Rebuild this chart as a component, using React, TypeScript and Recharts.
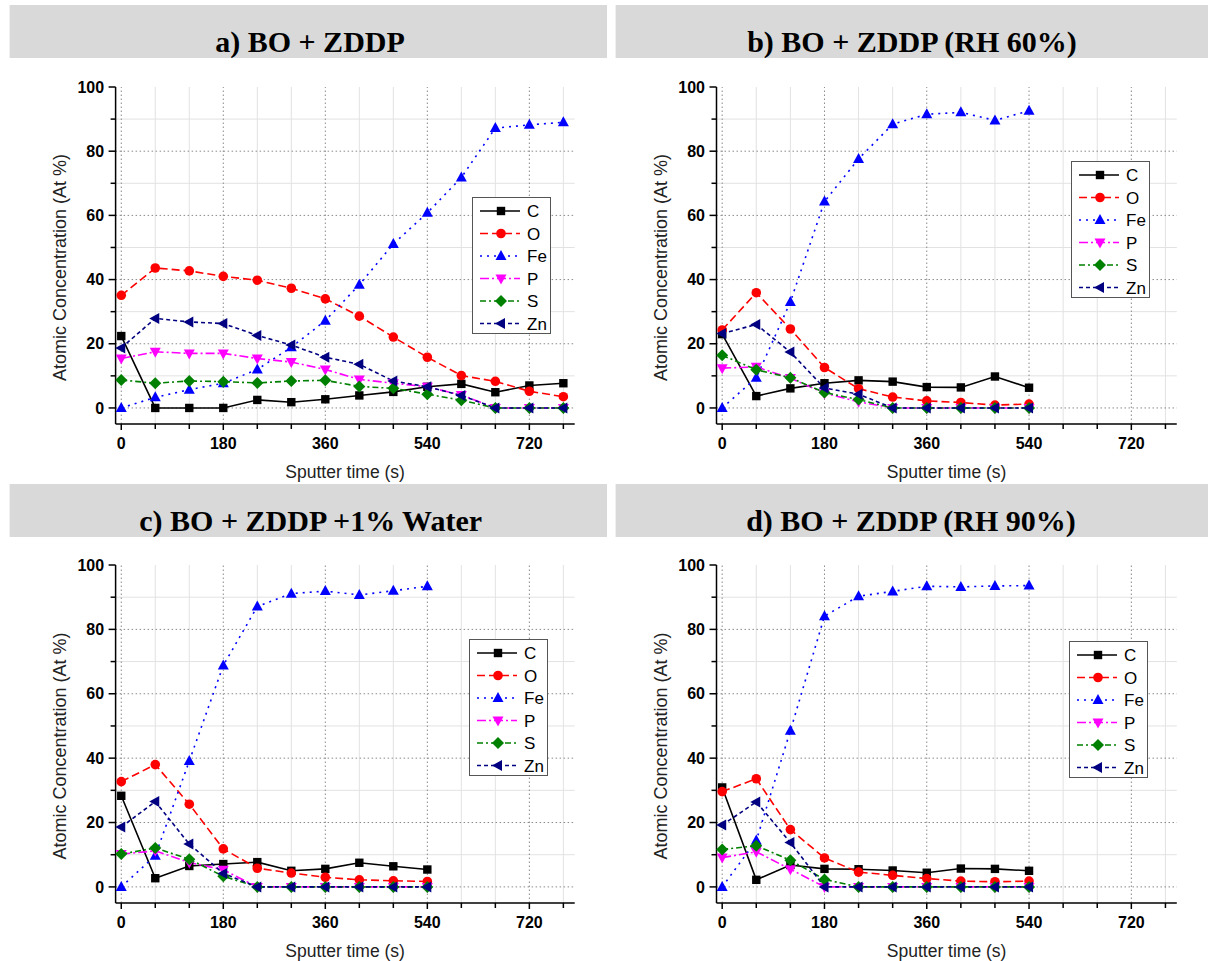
import React from "react"
import { LineChart, Line, XAxis, YAxis, ReferenceLine } from "recharts"

const timeLong = [0, 60, 120, 180, 240, 300, 360, 420, 480, 540, 600, 660, 720, 780]
const timeShort = [0, 60, 120, 180, 240, 300, 360, 420, 480, 540]

const elements = ["C", "O", "Fe", "P", "S", "Zn"]

// a) BO + ZDDP
const aC = [22.4, 0, 0, 0, 2.5, 1.8, 2.7, 3.9, 5.0, 6.6, 7.5, 4.9, 7.0, 7.7]
const aO = [35.1, 43.6, 42.7, 41.0, 39.8, 37.3, 34.0, 28.6, 22.1, 15.8, 10.1, 8.3, 5.2, 3.5]
const aFe = [0, 3.3, 5.7, 7.7, 12.0, 18.9, 27.2, 38.4, 51.1, 60.8, 71.8, 87.2, 88.2, 89.0]
const aP = [15.4, 17.5, 17.0, 17.0, 15.4, 14.3, 12.0, 8.9, 7.7, 6.6, 4.0, 0, 0, 0]
const aS = [8.7, 7.7, 8.4, 8.2, 7.8, 8.4, 8.6, 6.7, 6.1, 4.3, 2.4, 0, 0, 0]
const aZn = [18.7, 27.9, 26.8, 26.3, 22.6, 19.6, 15.8, 13.6, 8.4, 6.6, 3.9, 0, 0, 0]

// b) BO + ZDDP (RH 60%)
const bC = [23.0, 3.7, 6.1, 7.7, 8.6, 8.2, 6.5, 6.4, 9.8, 6.3]
const bO = [24.3, 35.9, 24.6, 12.6, 6.0, 3.4, 2.2, 1.7, 0.9, 1.2]
const bFe = [0, 9.4, 33.0, 64.3, 77.6, 88.4, 91.5, 92.1, 89.6, 92.6]
const bP = [12.4, 12.8, 9.3, 4.6, 1.9, 0, 0, 0, 0, 0]
const bS = [16.4, 11.9, 9.4, 4.8, 2.6, 0, 0, 0, 0, 0]
const bZn = [23.2, 26.0, 17.4, 6.2, 4.3, 0, 0, 0, 0, 0]

// c) BO + ZDDP +1% Water
const cC = [28.3, 2.7, 6.5, 7.1, 7.7, 5.0, 5.6, 7.5, 6.4, 5.4]
const cO = [32.7, 38.0, 25.7, 11.8, 5.8, 4.3, 3.0, 2.2, 1.9, 1.7]
const cFe = [0, 9.7, 39.1, 68.8, 87.1, 91.1, 91.9, 90.7, 92.0, 93.4]
const cP = [10.2, 11.2, 7.6, 5.3, 0, 0, 0, 0, 0, 0]
const cS = [10.2, 12.1, 8.6, 3.3, 0, 0, 0, 0, 0, 0]
const cZn = [18.6, 26.5, 13.3, 4.2, 0, 0, 0, 0, 0, 0]

// d) BO + ZDDP (RH 90%)
const dC = [30.9, 2.2, 6.8, 5.6, 5.5, 5.1, 4.4, 5.7, 5.6, 5.0]
const dO = [29.6, 33.6, 17.8, 9.0, 4.6, 3.6, 2.6, 1.8, 1.6, 1.8]
const dFe = [0, 14.4, 48.5, 84.1, 90.3, 91.8, 93.4, 93.2, 93.5, 93.6]
const dP = [9.1, 10.9, 5.5, 0, 0, 0, 0, 0, 0, 0]
const dS = [11.6, 12.8, 8.3, 2.3, 0, 0, 0, 0, 0, 0]
const dZn = [19.2, 26.4, 13.8, 0, 0, 0, 0, 0, 0, 0]

const xTicks = [0, 60, 120, 180, 240, 300, 360, 420, 480, 540, 600, 660, 720, 780]
const yTicks = [0, 10, 20, 30, 40, 50, 60, 70, 80, 90, 100]
const xMajor = [0, 180, 360, 540, 720]
const xMinor = [60, 120, 240, 300, 420, 480, 600, 660, 780]
const yMajor = [0, 20, 40, 60, 80]
const yMinor = [10, 30, 50, 70, 90]

const buildRows = (time: number[], C: number[], O: number[], Fe: number[], P: number[], S: number[], Zn: number[]) =>
  time.map((t, i) => ({ t, C: C[i], O: O[i], Fe: Fe[i], P: P[i], S: S[i], Zn: Zn[i] }))

const seriesStyle: Record<string, { color: string; dash?: string; marker: string }> = {
  C: { color: "#000000", marker: "square" },
  O: { color: "#ff0000", dash: "8 4", marker: "circle" },
  Fe: { color: "#0000ff", dash: "2 5", marker: "triUp" },
  P: { color: "#ff00ff", dash: "9 3 2 3", marker: "triDown" },
  S: { color: "#008000", dash: "6 3 2 3", marker: "diamond" },
  Zn: { color: "#000080", dash: "4 3", marker: "triLeft" },
}

const SANS = "'Liberation Sans', Arial, sans-serif"

function Marker({ kind, cx, cy, color }: { kind: string; cx: number; cy: number; color: string }) {
  switch (kind) {
    case "square":
      return <rect x={cx - 4.2} y={cy - 4.2} width={8.4} height={8.4} fill={color} />
    case "circle":
      return <circle cx={cx} cy={cy} r={4.8} fill={color} />
    case "triUp":
      return <polygon points={`${cx},${cy - 6} ${cx - 5.5},${cy + 4} ${cx + 5.5},${cy + 4}`} fill={color} />
    case "triDown":
      return <polygon points={`${cx},${cy + 6} ${cx - 5.5},${cy - 4} ${cx + 5.5},${cy - 4}`} fill={color} />
    case "diamond":
      return <polygon points={`${cx},${cy - 6} ${cx + 6},${cy} ${cx},${cy + 6} ${cx - 6},${cy}`} fill={color} />
    default:
      return <polygon points={`${cx - 6},${cy} ${cx + 4},${cy - 5.5} ${cx + 4},${cy + 5.5}`} fill={color} />
  }
}

const XTick = (props: any) => {
  const { x, y, payload } = props
  const v = payload.value
  const major = v % 180 === 0
  return (
    <g>
      <line x1={x} x2={x} y1={y} y2={y + (major ? 6 : 5)} stroke="#000" strokeWidth={1.5} />
      {major && (
        <text x={x} y={y + 25} textAnchor="middle" fontFamily={SANS} fontWeight="bold" fontSize={16} fill="#000">
          {v}
        </text>
      )}
    </g>
  )
}

const YTick = (props: any) => {
  const { x, y, payload } = props
  const v = payload.value
  const major = v % 20 === 0
  return (
    <g>
      <line x1={x - (major ? 7 : 5)} x2={x} y1={y} y2={y} stroke="#000" strokeWidth={1.5} />
      {major && (
        <text x={x - 11.5} y={y + 5.6} textAnchor="end" fontFamily={SANS} fontWeight="bold" fontSize={16} fill="#000">
          {v}
        </text>
      )}
    </g>
  )
}

function ChartLegend({ left, top }: { left: number; top: number }) {
  return (
    <div
      style={{
        position: "absolute",
        left,
        top,
        width: 79,
        height: 137,
        border: "1px solid #555",
        background: "#fff",
        boxSizing: "border-box",
      }}
    >
      <svg width={77} height={135} style={{ display: "block" }}>
        {elements.map((k, i) => {
          const s = seriesStyle[k]
          const cy = 13 + i * 22.5
          return (
            <g key={k}>
              <line x1={7} x2={47} y1={cy} y2={cy} stroke={s.color} strokeWidth={1.6} strokeDasharray={s.dash} />
              <Marker kind={s.marker} cx={28} cy={cy} color={s.color} />
              <text x={54} y={cy + 6} fontFamily={SANS} fontSize={17} fill="#000">
                {k}
              </text>
            </g>
          )
        })}
      </svg>
    </div>
  )
}

type PanelProps = {
  left: number
  top: number
  plotLeft: number
  plotRight: number
  plotTop: number
  plotBottom: number
  legendLeft: number
  legendTop: number
  data: any[]
}

function Panel({ left, top, plotLeft, plotRight, plotTop, plotBottom, legendLeft, legendTop, data }: PanelProps) {
  const W = 604
  const H = 490 // a little taller than the 480 cell so the axis title's descenders are not clipped
  const xAxisH = 40
  const cx = (plotLeft + plotRight) / 2
  const cy = (plotTop + plotBottom) / 2
  return (
    <div style={{ position: "absolute", left, top, width: W, height: H }}>
      <LineChart
        width={W}
        height={H}
        data={data}
        margin={{ top: plotTop, right: W - plotRight, left: 0, bottom: H - plotBottom - xAxisH }}
      >
        {xMinor.map((v) => (
          <ReferenceLine key={`xm${v}`} x={v} stroke="#e2e2e2" strokeWidth={1} zIndex={-100} />
        ))}
        {yMinor.map((v) => (
          <ReferenceLine key={`ym${v}`} y={v} stroke="#e2e2e2" strokeWidth={1} zIndex={-100} />
        ))}
        {xMajor.map((v) => (
          <ReferenceLine key={`xM${v}`} x={v} stroke="#8a8a8a" strokeWidth={1} strokeDasharray="1.5 2.5" zIndex={-90} />
        ))}
        {yMajor.map((v) => (
          <ReferenceLine key={`yM${v}`} y={v} stroke="#8a8a8a" strokeWidth={1} strokeDasharray="1.5 2.5" zIndex={-90} />
        ))}
        <XAxis
          dataKey="t"
          type="number"
          domain={[-10, 800]}
          ticks={xTicks}
          interval={0}
          height={xAxisH}
          tickSize={0}
          tickMargin={0}
          tickLine={false}
          tick={XTick}
          axisLine={{ stroke: "#000", strokeWidth: 1.5 }}
          label={{
            content: () => (
              <text x={cx} y={plotBottom + 54} textAnchor="middle" fontFamily={SANS} fontSize={17.5} fill="#222">
                Sputter time (s)
              </text>
            ),
          }}
        />
        <YAxis
          type="number"
          domain={[-5, 100]}
          ticks={yTicks}
          interval={0}
          width={plotLeft}
          tickSize={0}
          tickMargin={0}
          tickLine={false}
          tick={YTick}
          axisLine={{ stroke: "#000", strokeWidth: 1.5 }}
          label={{
            content: () => (
              <text
                x={plotLeft - 56}
                y={cy + 12}
                transform={`rotate(-90, ${plotLeft - 56}, ${cy + 12})`}
                textAnchor="middle"
                dominantBaseline="central"
                fontFamily={SANS}
                fontSize={18}
                fill="#222"
              >
                Atomic Concentration (At %)
              </text>
            ),
          }}
        />
        {elements.map((k) => {
          const s = seriesStyle[k]
          return (
            <Line
              key={k}
              type="linear"
              dataKey={k}
              stroke={s.color}
              strokeWidth={1.6}
              strokeDasharray={s.dash}
              isAnimationActive={false}
              activeDot={false}
              dot={(p: any) => <Marker key={`${k}-${p.index}`} kind={s.marker} cx={p.cx} cy={p.cy} color={s.color} />}
            />
          )
        })}
      </LineChart>
      <ChartLegend left={legendLeft} top={legendTop} />
    </div>
  )
}

const titles = [
  { text: "a) BO + ZDDP", x: 9.6, y: 5, w: 597.4, cx: 310 },
  { text: "b) BO + ZDDP (RH 60%)", x: 615.6, y: 5, w: 592.4, cx: 912 },
  { text: "c) BO + ZDDP +1% Water", x: 9.6, y: 484, w: 597.4, cx: 310.7 },
  { text: "d) BO + ZDDP (RH 90%)", x: 615.6, y: 484, w: 592.4, cx: 911 },
]

export default function App() {
  const rowsA = buildRows(timeLong, aC, aO, aFe, aP, aS, aZn)
  const rowsB = buildRows(timeShort, bC, bO, bFe, bP, bS, bZn)
  const rowsC = buildRows(timeShort, cC, cO, cFe, cP, cS, cZn)
  const rowsD = buildRows(timeShort, dC, dO, dFe, dP, dS, dZn)
  return (
    <div style={{ position: "absolute", left: 0, top: 0, width: 1208, height: 961, background: "#fff", overflow: "hidden" }}>
      <svg width={1208} height={961} style={{ position: "absolute", left: 0, top: 0 }}>
        {titles.map((t) => (
          <g key={t.text}>
            <rect x={t.x} y={t.y} width={t.w} height={53} fill="#d9d9d9" />
            <text
              x={t.cx}
              y={t.y + 47}
              textAnchor="middle"
              fontFamily="'Liberation Serif', 'Times New Roman', serif"
              fontWeight="bold"
              fontSize={30}
              fill="#000"
            >
              {t.text}
            </text>
          </g>
        ))}
      </svg>
      <Panel left={0} top={0} plotLeft={115.6} plotRight={574.7} plotTop={87} plotBottom={424} legendLeft={471.5} legendTop={197} data={rowsA} />
      <Panel left={604} top={0} plotLeft={112.5} plotRight={572.8} plotTop={87} plotBottom={424} legendLeft={467} legendTop={161} data={rowsB} />
      <Panel left={0} top={480} plotLeft={115.6} plotRight={574.7} plotTop={85} plotBottom={423} legendLeft={469} legendTop={159} data={rowsC} />
      <Panel left={604} top={480} plotLeft={112.5} plotRight={572.8} plotTop={85} plotBottom={423} legendLeft={465} legendTop={161} data={rowsD} />
    </div>
  )
}
